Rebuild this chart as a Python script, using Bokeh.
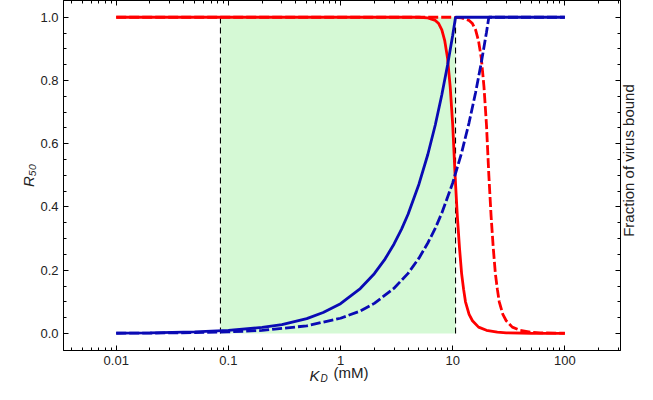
import math
from bokeh.plotting import figure
from bokeh.models import (LogAxis, LinearAxis, FixedTicker, PrintfTickFormatter,
                          CustomJSTickFormatter, Label, Range1d)
from bokeh.embed import file_html
from bokeh.resources import INLINE

# ---------------- data ----------------
x_ticks = [0.01, 0.1, 1, 10, 100]
y_ticks = [0.0, 0.2, 0.4, 0.6, 0.8, 1.0]

# shaded window and its dashed borders (KD, mM)
window_left = [0.085]
window_right = [10.6]
window_bottom = [0.0]
window_top = [1.0]

red_solid_kd = [0.01, 1, 5, 6, 7, 7.5, 8, 8.5, 9, 9.5, 10, 10.5, 11, 11.5, 12,
                12.5, 13, 14, 15, 17, 20, 25, 30, 50, 100]
red_solid_y = [1.0, 1.0, 1.0, 0.998, 0.99, 0.98, 0.96, 0.925, 0.87, 0.78, 0.66,
               0.5, 0.37, 0.27, 0.19, 0.14, 0.10, 0.06, 0.04, 0.02, 0.01,
               0.004, 0.002, 0.0005, 0.0]

red_dashed_kd = [0.01, 10, 12, 14, 15, 16, 17, 18, 19, 20, 21, 22, 23, 24, 25,
                 26, 28, 30, 34, 40, 50, 60, 100]
red_dashed_y = [1.0, 1.0, 0.998, 0.99, 0.98, 0.96, 0.925, 0.87, 0.78, 0.66, 0.5,
                0.37, 0.27, 0.19, 0.14, 0.10, 0.06, 0.04, 0.02, 0.01, 0.004,
                0.002, 0.0005]

blue_solid_kd = [0.01, 0.02, 0.05, 0.1, 0.2, 0.3, 0.5, 0.7, 1.0, 1.5, 2.0, 2.5,
                 3.0, 3.5, 4.0, 5.0, 6.0, 7.0, 8.0, 9.0, 10.0, 10.6, 20, 100]
blue_solid_y = [0.0009, 0.0019, 0.0047, 0.0094, 0.019, 0.028, 0.047, 0.066,
                0.094, 0.142, 0.189, 0.236, 0.283, 0.33, 0.377, 0.472, 0.566,
                0.66, 0.755, 0.849, 0.943, 1.0, 1.0, 1.0]

blue_dashed_kd = [0.01, 0.02, 0.05, 0.1, 0.2, 0.5, 1, 1.5, 2, 3, 4, 5, 6, 7, 8,
                  10, 12, 14, 16, 18, 20, 21, 50, 100]
blue_dashed_y = [0.0005, 0.001, 0.0024, 0.0048, 0.0095, 0.024, 0.048, 0.071,
                 0.095, 0.143, 0.19, 0.238, 0.286, 0.333, 0.381, 0.476, 0.571,
                 0.667, 0.762, 0.857, 0.952, 1.0, 1.0, 1.0]

# ---------------- figure ----------------
W, H = 637, 384
RED = "#ff0000"
BLUE = "#0a0ab4"
FONT = "Liberation Sans"
TXT = "#222222"

p = figure(width=W, height=H, x_axis_type="log",
           x_range=Range1d(10 ** -2.47, 10 ** 2.496),
           y_range=Range1d(-0.054, 1.053),
           output_backend="svg", toolbar_location=None,
           min_border_left=0, min_border_right=0,
           min_border_top=0, min_border_bottom=0)
p.xgrid.visible = False
p.ygrid.visible = False
p.outline_line_color = "black"
p.background_fill_color = "white"
p.border_fill_color = "white"

minor_x = [m * 10 ** e for e in range(-3, 3) for m in range(2, 10)]
minor_y = [round(0.05 * i, 2) for i in range(1, 20) if i % 4 != 0]

xaxis = p.xaxis[0]
yaxis = p.yaxis[0]
xaxis.ticker = FixedTicker(ticks=x_ticks, minor_ticks=minor_x)
yaxis.ticker = FixedTicker(ticks=y_ticks, minor_ticks=minor_y)
xaxis.formatter = CustomJSTickFormatter(code="return tick.toString()")
yaxis.formatter = PrintfTickFormatter(format="%.1f")

top_axis = LogAxis(ticker=FixedTicker(ticks=x_ticks, minor_ticks=minor_x))
right_axis = LinearAxis(ticker=FixedTicker(ticks=y_ticks, minor_ticks=minor_y))
p.add_layout(top_axis, "above")
p.add_layout(right_axis, "right")

for ax in (xaxis, yaxis, top_axis, right_axis):
    ax.major_tick_in = 5
    ax.major_tick_out = 0
    ax.minor_tick_in = 3
    ax.minor_tick_out = 0
    ax.axis_line_color = "black"
    ax.major_tick_line_color = "black"
    ax.minor_tick_line_color = "black"
    ax.major_label_text_font = FONT
    ax.major_label_text_font_size = "13px"
    ax.major_label_text_color = TXT
for ax in (top_axis, right_axis):
    ax.major_label_text_font_size = "1px"
    ax.major_label_text_color = None
    ax.major_label_standoff = 0
xaxis.major_label_standoff = 5
yaxis.major_label_standoff = 5

# y title R50
yaxis.axis_label = "R\u2085\u2080"
yaxis.axis_label_text_font = FONT
yaxis.axis_label_text_font_size = "15px"
yaxis.axis_label_text_font_style = "italic"
yaxis.axis_label_text_color = TXT
yaxis.axis_label_standoff = 0

# ---------------- glyphs ----------------
p.quad(left=window_left, right=window_right, bottom=window_bottom, top=window_top,
       fill_color="#d5f9d5", line_color=None)
p.segment(x0=window_left + window_right, x1=window_left + window_right,
          y0=window_bottom * 2, y1=window_top * 2,
          line_color="black", line_width=1.1, line_dash="6 4")

p.line(red_solid_kd, red_solid_y, line_color=RED, line_width=2.8)
p.line(red_dashed_kd, red_dashed_y, line_color=RED, line_width=2.8, line_dash="10 3")
p.line(blue_solid_kd, blue_solid_y, line_color=BLUE, line_width=2.8)
p.line(blue_dashed_kd, blue_dashed_y, line_color=BLUE, line_width=2.8, line_dash="10 3")

# ---------------- titles placed in side panels (not clipped) ----------------
def lab(side, text, x, y, size, style="normal", angle=0.0, align="left"):
    p.add_layout(Label(x=x, y=y, x_units="screen", y_units="screen", text=text,
                       text_font=FONT, text_font_size=size, text_font_style=style,
                       text_color=TXT, angle=angle, text_align=align,
                       text_baseline="alphabetic"), side)

# x title: K_D (mM)
lab("below", "(mM)", 270, 12, "15px")
lab("left", "K", 302, -25, "15px", "italic")
lab("left", "D", 320, -28, "10px", "italic")

# right title
lab("right", "Fraction of virus bound", 8, 190, "15px", "normal",
    angle=math.pi / 2, align="center")

open("out.html", "w").write(file_html(p, INLINE))
